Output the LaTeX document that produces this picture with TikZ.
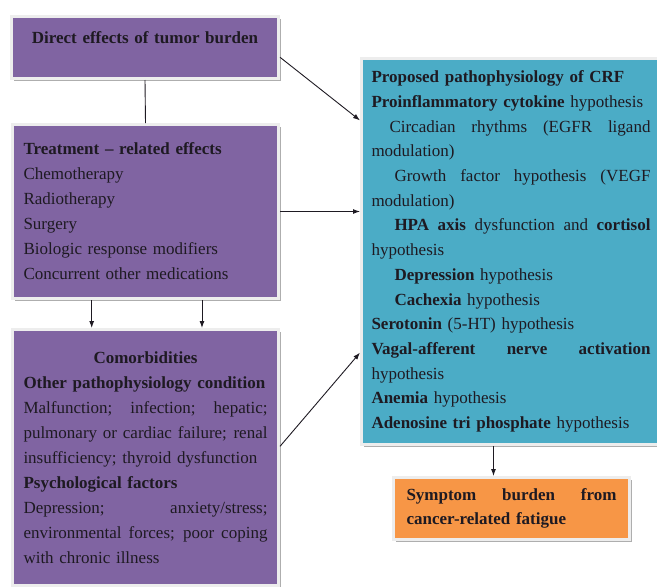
\documentclass[tikz,border=0pt]{standalone}
\usepackage{fontspec}
\setmainfont{Liberation Serif}
\usetikzlibrary{arrows.meta, positioning, calc, shadows}
\definecolor{boxpurple}{HTML}{8064A2}
\definecolor{boxcyan}{HTML}{4BACC6}
\definecolor{boxorange}{HTML}{F79646}
\definecolor{inkdark}{HTML}{1E1A22}
\newcommand{\jline}[2][0pt]{\hspace*{#1}%
  \makebox[\dimexpr\linewidth-#1\relax][s]{\spaceskip=0pt\xspaceskip=0pt #2}}

\begin{document}
\begin{tikzpicture}[x=1pt, y=-1pt,
    font=\fontsize{17}{25}\selectfont,
    panel/.style={draw=black!7, line width=3pt, text=inkdark,
                  anchor=north west, align=left,
                  drop shadow={shadow xshift=2pt, shadow yshift=-2pt,
                               fill=black!45, opacity=0.7}},
    link/.style={inkdark, line width=0.9pt},
    arrow/.style={link, -{Latex[length=7pt, width=5pt]}}]
  \useasboundingbox (0,0) rectangle (657,587);
  % left column
  \node[panel, fill=boxpurple, minimum width=267pt, minimum height=62pt,
        text width=245pt, align=center, text height=12pt, text depth=20pt,
        font=\fontsize{17}{25}\selectfont\bfseries] (tumor) at (10,15)
    {Direct effects of tumor burden};
  \node[panel, fill=boxpurple, minimum height=174pt, text width=244pt,
        inner xsep=11pt] (treat) at (11,123)
    {\textbf{Treatment -- related effects}\\
     Chemotherapy\\
     Radiotherapy\\
     Surgery\\
     Biologic response modifiers\\
     Concurrent other medications};
  \node[panel, fill=boxpurple, minimum height=256pt, text width=244pt,
        inner xsep=11pt] (comorb) at (11,328)
    {\makebox[\linewidth][c]{\bfseries Comorbidities}\\
     \textbf{Other pathophysiology condition}\\
     \jline{Malfunction; infection; hepatic;}\\
     \jline{pulmonary or cardiac failure; renal}\\
     insufficiency; thyroid dysfunction\\
     \textbf{Psychological factors}\\
     \jline{Depression; anxiety/stress;}\\
     \jline{environmental forces; poor coping}\\
     with chronic illness};
  % right column
  \node[panel, fill=boxcyan, minimum height=386pt, text width=279pt,
        inner xsep=10pt, font=\fontsize{17}{24.7}\selectfont] (crf) at (360,57)
    {\textbf{Proposed pathophysiology of CRF}\\
     \textbf{Proinflammatory cytokine} hypothesis\\
     \jline[18pt]{Circadian rhythms (EGFR ligand}\\
     modulation)\\
     \jline[23pt]{Growth factor hypothesis (VEGF}\\
     modulation)\\
     \jline[23pt]{\textbf{HPA axis} dysfunction and \textbf{cortisol}}\\
     hypothesis\\
     \hspace*{23pt}\textbf{Depression} hypothesis\\
     \hspace*{23pt}\textbf{Cachexia} hypothesis\\
     \textbf{Serotonin} (5-HT) hypothesis\\
     \jline{\textbf{Vagal-afferent nerve activation}}\\
     hypothesis\\
     \textbf{Anemia} hypothesis\\
     \textbf{Adenosine tri phosphate} hypothesis};
  \node[panel, fill=boxorange, minimum height=62pt, text width=210pt,
        inner xsep=13pt, font=\fontsize{17}{24}\selectfont\bfseries]
        (fatigue) at (392,476)
    {\jline{Symptom burden from}\\
     cancer-related fatigue};
  % connectors
  \draw[link] (tumor.south) -- (treat.north);
  \draw[arrow] ($(tumor.north east)!0.65!(tumor.south east)$)
    -- ($(crf.north west)!0.163!(crf.south west)$);
  \draw[arrow] (treat.east) -- (crf.west |- treat.east);
  \draw[arrow] ($(comorb.north east)!0.457!(comorb.south east)$)
    -- ($(crf.north west)!0.76!(crf.south west)$);
  \foreach \f in {0.3,0.71}
    \draw[arrow] ($(treat.south west)!\f!(treat.south east)$)
      -- ($(comorb.north west)!\f!(comorb.north east)$);
  \draw[arrow] ($(crf.south west)!0.442!(crf.south east)$) coordinate (drop)
    -- (drop |- fatigue.north);
\end{tikzpicture}
\end{document}
